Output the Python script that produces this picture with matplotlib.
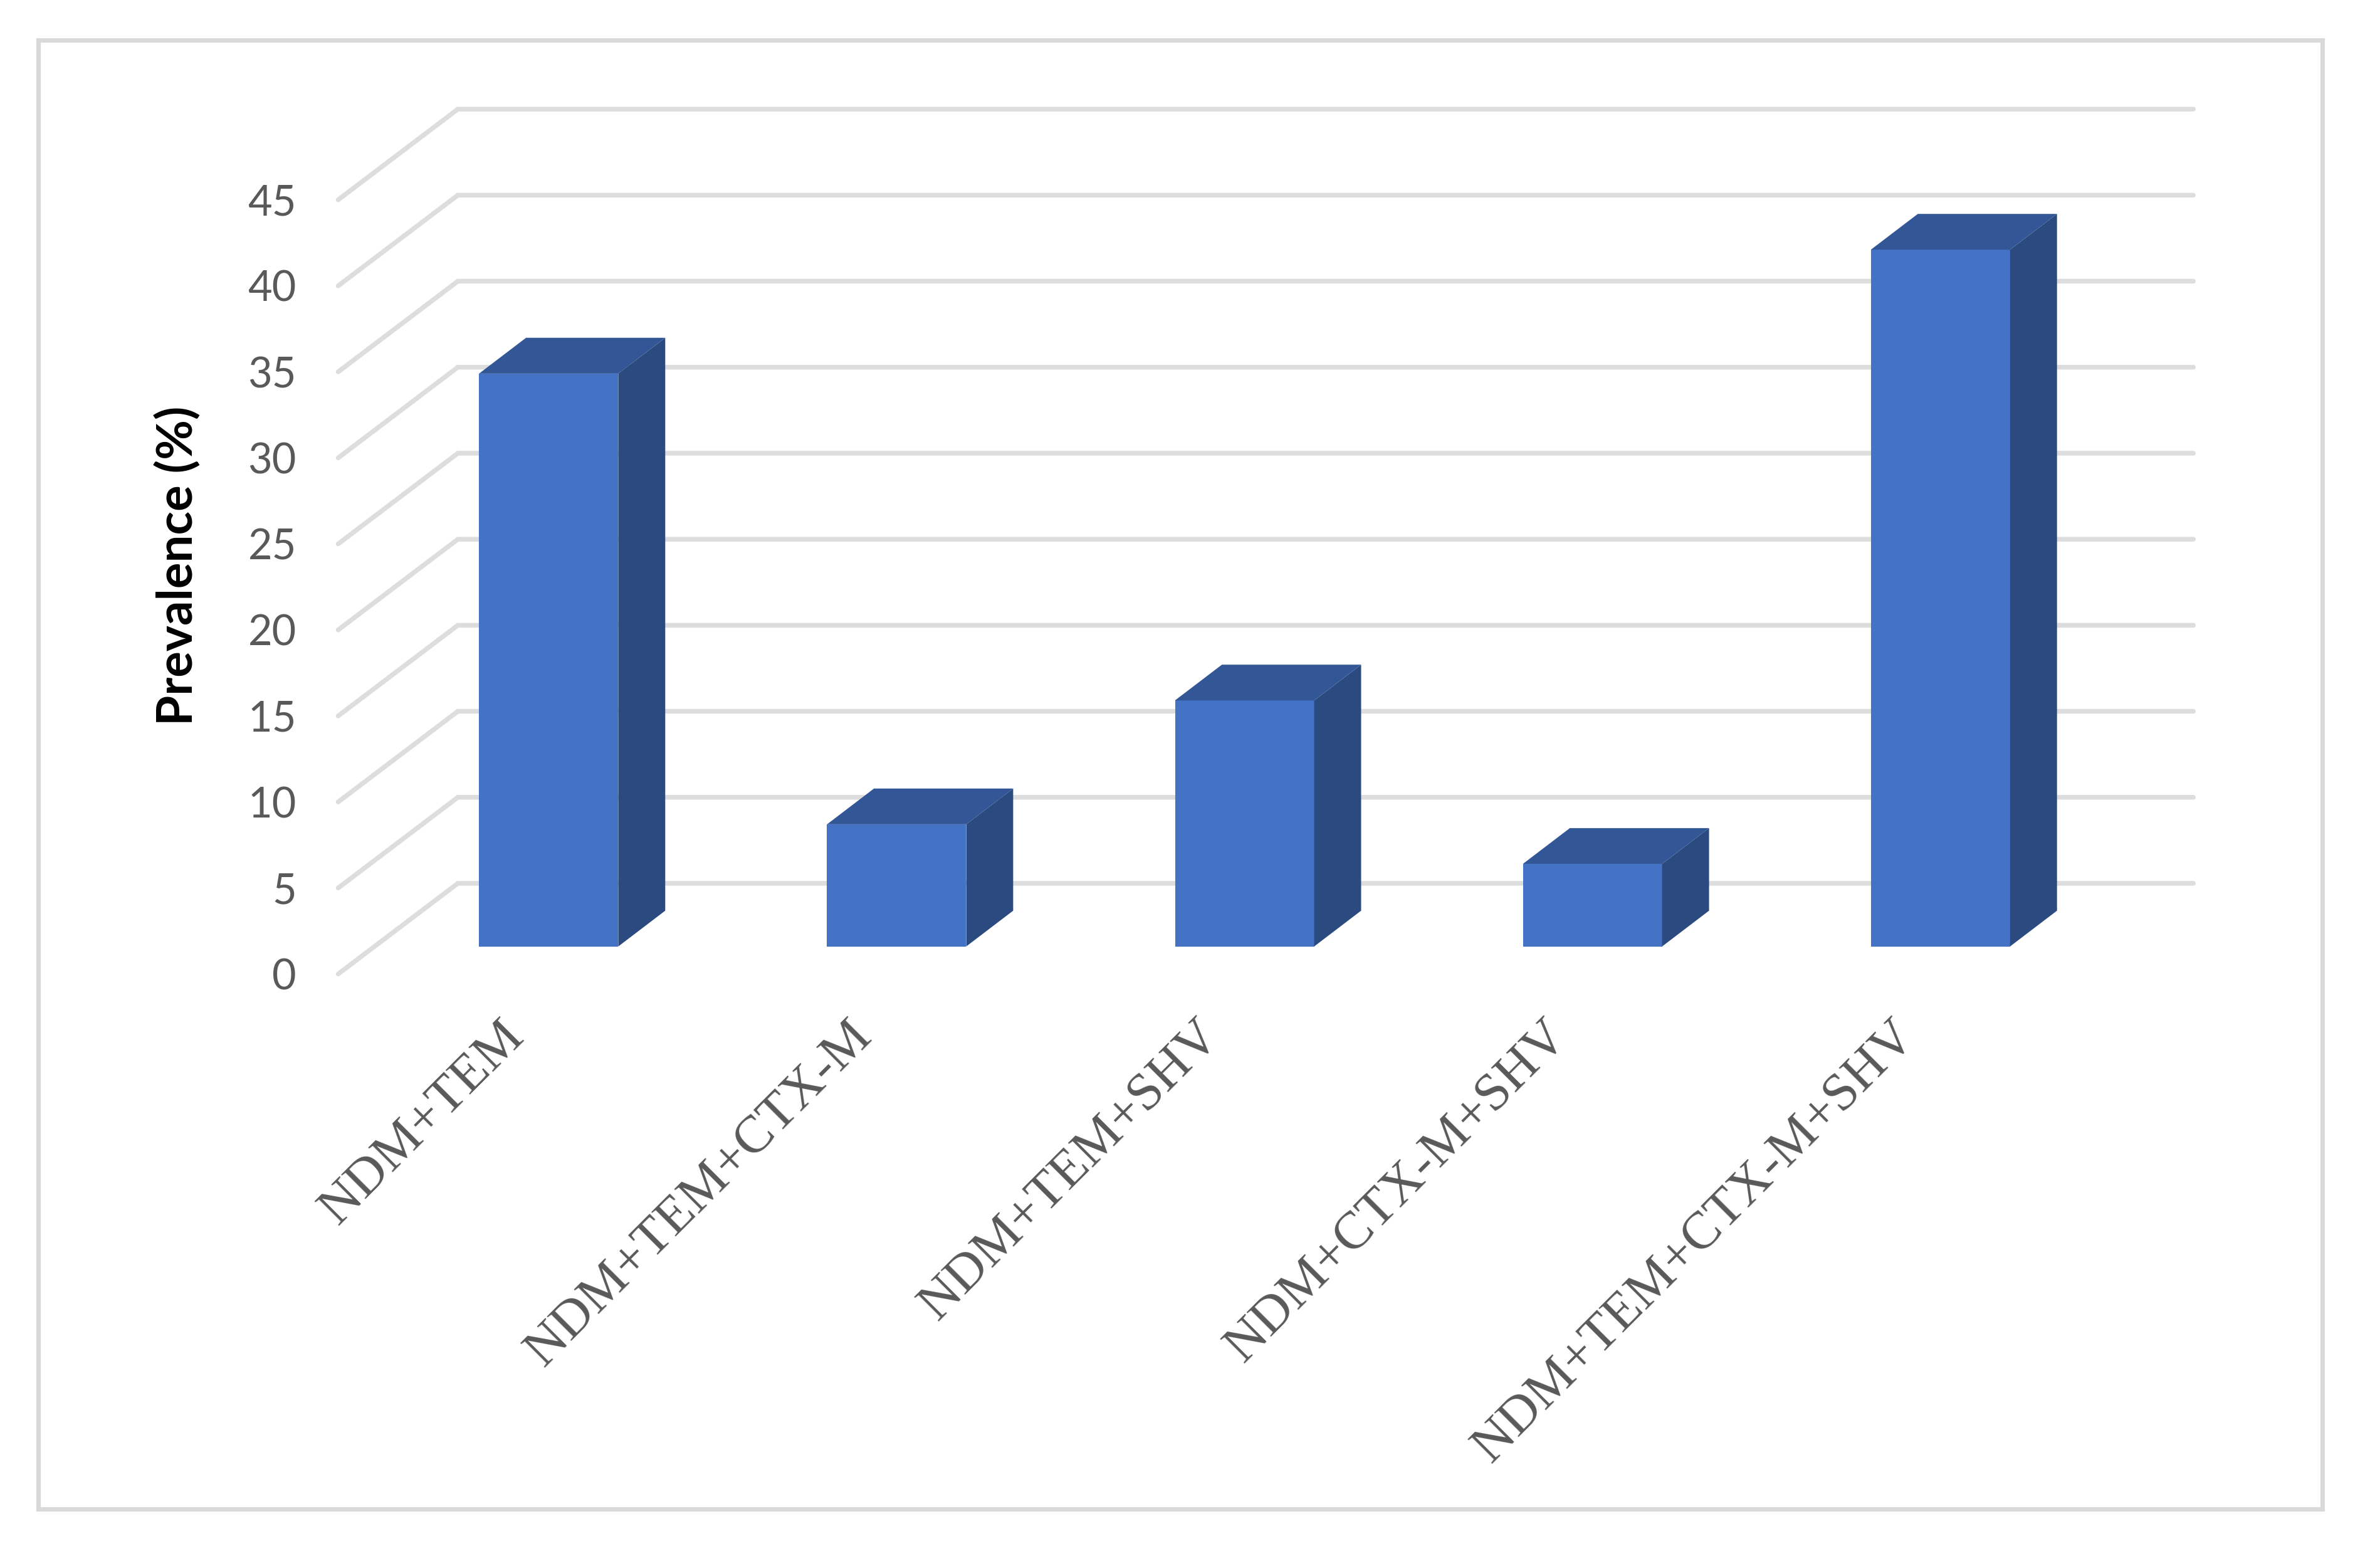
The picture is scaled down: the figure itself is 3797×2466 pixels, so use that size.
import matplotlib
matplotlib.use('Agg')
import matplotlib.pyplot as plt
from matplotlib.patches import Polygon, Rectangle
from matplotlib.transforms import ScaledTranslation
import numpy as np

# Dados
genes = ['NDM+TEM', 'NDM+TEM+CTX-M', 'NDM+TEM+SHV', 'NDM+CTX-M+SHV', 'NDM+TEM+CTX-M+SHV']
prevalence = [33.3, 7.1, 14.3, 4.8, 40.5]
yticks = [0, 5, 10, 15, 20, 25, 30, 35, 40, 45]

W, H = 3797, 2466
ax_right = 3315
fig = plt.figure(figsize=(W / 300, H / 300), dpi=300, facecolor='white')
ax = fig.add_axes([539.5 / W, 1 - 1553.6 / H, (ax_right - 539.5) / W, (1553.6 - 318.7) / H])
ax.set_xlim(-0.5, 4.5)
ax.set_ylim(0, 45)
ax.patch.set_visible(False)
for s in ax.spines.values():
    s.set_visible(False)

# caixa em volta do grafico
fig.patches.append(Rectangle((61 / W, 1 - 2407 / H), (3705 - 61) / W, (2407 - 64) / H,
                             transform=fig.transFigure, fill=False,
                             edgecolor='#D9D9D9', linewidth=1.7))

# profundidade do "3D", em unidades dos dados
wall_dx, wall_dy = 0.344, 5.27
front_dx, front_dy = 0.105, 1.6
depth_dx, depth_dy = 0.135, 2.08
width = 0.4

# grade: parede do fundo + linha lateral
for v in yticks:
    ax.plot([-0.5, -0.5 + wall_dx, 4.488 + wall_dx], [v, v + wall_dy, v + wall_dy],
            color='#DDDDDD', lw=1.8, clip_on=False, zorder=1,
            solid_joinstyle='miter', solid_capstyle='round')

x = np.arange(len(genes))
left = x + front_dx - width / 2
right = x + front_dx + width / 2
ax.bar(x + front_dx, prevalence, width=width, bottom=front_dy, color='#4472C4',
       clip_on=False, zorder=3)

for l, r, v in zip(left, right, prevalence):
    top = v + front_dy
    # lado
    ax.add_patch(Polygon([(r, front_dy), (r + depth_dx, front_dy + depth_dy),
                          (r + depth_dx, top + depth_dy), (r, top)],
                         closed=True, facecolor='#2A4A80', edgecolor='none',
                         clip_on=False, zorder=3))
    # topo
    ax.add_patch(Polygon([(l, top), (l + depth_dx, top + depth_dy),
                          (r + depth_dx, top + depth_dy), (r, top)],
                         closed=True, facecolor='#335796', edgecolor='none',
                         clip_on=False, zorder=3))

ax.set_yticks(yticks)
ax.set_yticklabels([str(v) for v in yticks], family='Lato', fontsize=16, color='#595959')
ax.set_xticks(x)
ax.set_xticklabels(genes, family='Liberation Serif', fontsize=20.3, color='#595959',
                   rotation=45, ha='right', va='center', rotation_mode='anchor')
ax.tick_params(axis='y', length=0, pad=16)
ax.tick_params(axis='x', length=0, pad=21)
shift = ScaledTranslation(1.6 / 72, 0, fig.dpi_scale_trans)
for lab in ax.get_xticklabels():
    lab.set_transform(lab.get_transform() + shift)
ax.set_ylabel('Prevalence (%)', family='Lato', fontweight='bold', fontsize=18.7, color='black')
ax.yaxis.set_label_coords((322 - 539.5) / (ax_right - 539.5), (1553.6 - 902) / (1553.6 - 318.7))

plt.savefig('out.png', dpi=300, facecolor='white')
